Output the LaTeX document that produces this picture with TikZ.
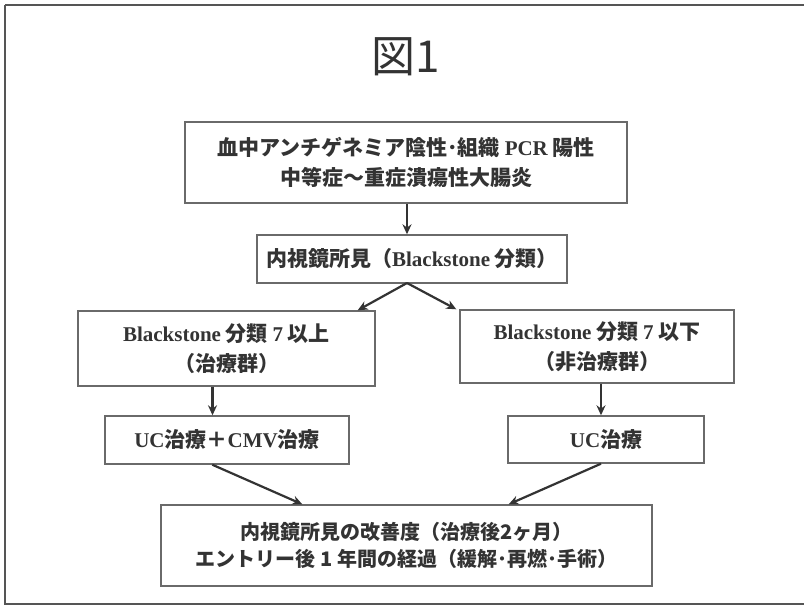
\documentclass[tikz,border=0pt]{standalone}
\usepackage{fontspec}
\usetikzlibrary{arrows.meta}
\setmainfont{Noto Sans CJK JP}
\newfontfamily\jpfont{Noto Sans CJK JP}
\newfontfamily\serifb{Liberation Serif}
\newcommand\latn[1]{{\serifb\bfseries #1}}
\definecolor{txt}{HTML}{333333}
\definecolor{boxline}{HTML}{6A6A6A}
\definecolor{arr}{HTML}{333333}
\tikzset{
  box/.style={draw=boxline, line width=1.4pt, fill=white, align=center, text=txt,
    inner sep=0pt, font=\fontsize{21}{30}\selectfont\bfseries},
  conn/.style={draw=arr, line width=2.2pt, -{Stealth[length=10pt,width=9pt]}},
  frame/.style={draw=boxline!80!black, line width=2pt}
}
\begin{document}
\begin{tikzpicture}[x=1pt,y=-1pt]
\useasboundingbox (0,0) rectangle (804,608);
\fill[white] (0,0) rectangle (804,608);
\draw[frame] (5,5) -- (804,5);
\draw[frame] (5,5) -- (5,604) -- (804,604);
\node[text=txt, font=\fontsize{44}{44}\selectfont] (title) at (406,57) {図1};
\node[box, minimum width=442pt, minimum height=81pt] (top) at (406,162.5)
  {血中アンチゲネミア陰性･組織 \latn{PCR} 陽性\\中等症～重症潰瘍性大腸炎};
\node[box, minimum width=310pt, minimum height=48pt] (mid) at (412,259)
  {内視鏡所見（\latn{Blackstone} 分類）};
\node[box, minimum width=297pt, minimum height=75pt] (L) at (226.5,348.5)
  {\latn{Blackstone} 分類 \latn{7} 以上\\（治療群）};
\node[box, minimum width=274pt, minimum height=73pt] (R) at (597,346.5)
  {\latn{Blackstone} 分類 \latn{7} 以下\\（非治療群）};
\node[box, minimum width=244pt, minimum height=48pt] (LC) at (227,440)
  {\latn{UC}治療＋\latn{CMV}治療};
\node[box, minimum width=196pt, minimum height=47pt] (RC) at (606,439.5)
  {\latn{UC}治療};
\node[box, minimum width=491pt, minimum height=81pt, font=\fontsize{20}{27}\selectfont\bfseries] (B) at (406.5,545.5)
  {内視鏡所見の改善度（治療後2ヶ月）\\エントリー後 1 年間の経過（緩解･再燃･手術）};
\coordinate (apex) at (407,283);
\draw[conn] ([xshift=1pt]top.south) -- ([xshift=-5pt]mid.north);
\draw[conn] (apex) -- ([xshift=-18pt]L.north east);
\draw[conn] (apex) -- ([xshift=-3pt]R.north west);
\draw[conn] ([xshift=-14pt]L.south) -- ([xshift=-14pt]L.south |- LC.north);
\draw[conn] ([xshift=4pt]R.south) -- ([xshift=4pt]R.south |- RC.north);
\draw[conn] ([xshift=108pt]LC.south west) -- ([xshift=142pt]B.north west);
\draw[conn] ([xshift=-5pt]RC.south) -- ([xshift=-144pt]B.north east);
\end{tikzpicture}
\end{document}
